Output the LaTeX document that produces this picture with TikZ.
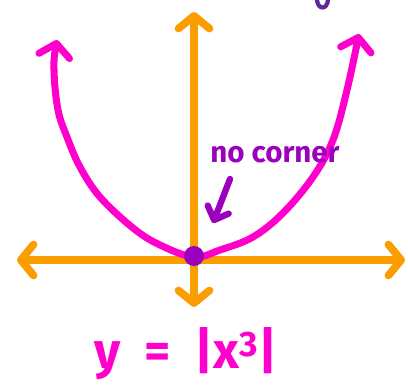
\documentclass[tikz,border=0pt]{standalone}
\usepackage{fontspec}
\setmainfont{Fira Sans}
\usetikzlibrary{arrows.meta, positioning}
\definecolor{axisorange}{RGB}{250, 158, 0}
\definecolor{curvepink}{RGB}{255, 0, 204}
\definecolor{notepurple}{RGB}{155, 0, 190}
\definecolor{inkpurple}{RGB}{95, 40, 150}

\begin{document}
\begin{tikzpicture}[x=0.025cm, y=-0.025cm,
    axis/.style={draw=axisorange, line width=5.5pt, line cap=round, line join=round,
                 {Straight Barb[length=9pt, width=22pt, round]}-{Straight Barb[length=9pt, width=22pt, round]}},
    graph/.style={draw=curvepink, line width=5pt, line cap=round, line join=round,
                  {Straight Barb[length=9pt, width=22pt, round]}-{Straight Barb[length=9pt, width=22pt, round]}},
    pointer/.style={draw=notepurple, line width=4.5pt, line cap=round,
                    -{Straight Barb[length=8pt, width=16pt, round]}},
    note/.style={text=notepurple, font=\fontsize{21}{21}\selectfont\bfseries, inner sep=0pt},
    eqn/.style={text=curvepink, font=\fontsize{36}{36}\selectfont\bfseries, inner sep=0pt},
    origin/.style={circle, fill=notepurple, minimum size=0.5cm, inner sep=0pt}
]
\useasboundingbox (0,0) rectangle (408,386);

%% Axes
\coordinate (xl) at (17,260);
\coordinate (xr) at (405,260);
\coordinate (yt) at (194,12);
\coordinate (yb) at (194,307);
\draw[axis] (xl) -- (xr);
\draw[axis] (yt) -- (yb);

%% Curve y = |x^3|
\draw[graph] plot[smooth, tension=0.6] coordinates {
    (57,40) (54,70) (58,110) (67,137) (80,167) (100,197) (133,228)
    (160,245) (194,257) (220,250) (253,237) (283,213) (313,177)
    (333,140) (347,90) (359,34)};

%% Origin dot and note
\node[origin] (dot) at (194,256) {};
\node[note] (corner) at (275,155) {no corner};
\coordinate (ptail) at (230,179);
\coordinate (phead) at (213,223);
\draw[pointer] (ptail) -- (phead);

%% Equation
\node[eqn] (eq) at (186,354) {y\hspace{0.6cm}=\hspace{0.6cm}|x\textsuperscript{3}|};

%% stray mark at the top edge
\draw[inkpurple, line width=3pt, line cap=round] (317,0) .. controls (318,10) and (327,10) .. (328,0);

\end{tikzpicture}
\end{document}
